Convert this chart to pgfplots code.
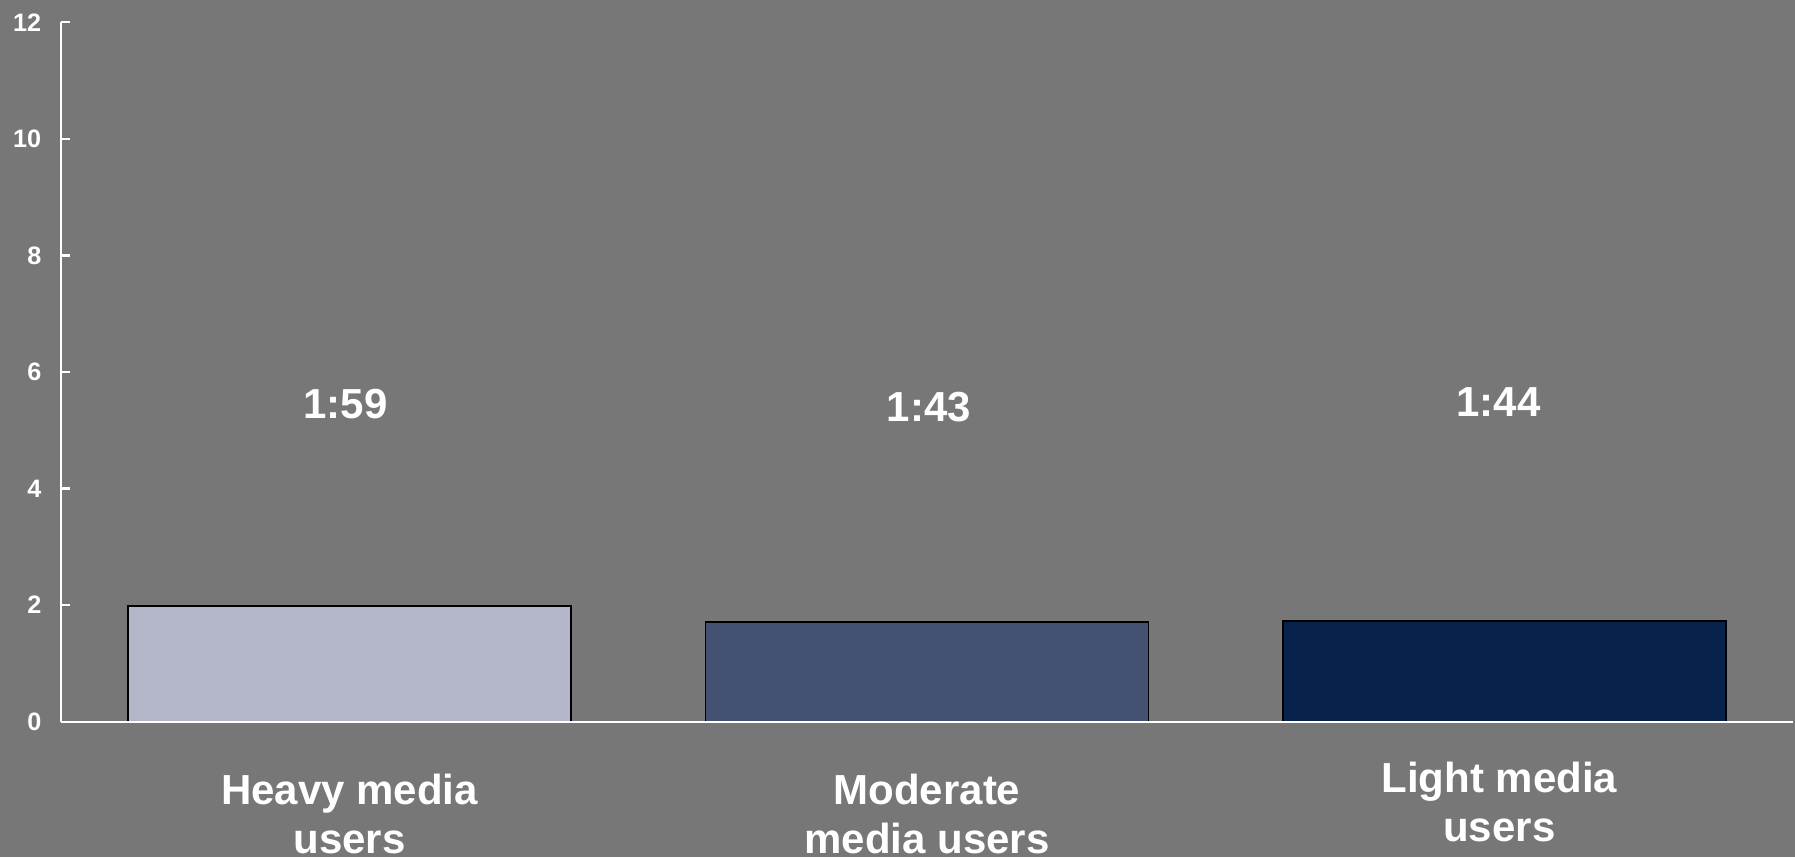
\documentclass[border=0pt]{standalone}
\usepackage{fontspec}
\setmainfont{Liberation Sans}
\usepackage{pgfplots}
\pgfplotsset{compat=1.18}

\definecolor{bggray}{RGB}{119,119,119}
\definecolor{heavycol}{RGB}{179,183,201}
\definecolor{moderatecol}{RGB}{69,81,115}
\definecolor{lightcol}{RGB}{7,34,75}

\begin{document}
\begin{tikzpicture}
% page area and grey backdrop
\fill[bggray] (-15.25pt,-33.825pt) rectangle (433.5pt,180.425pt);
\clip (-15.25pt,-33.825pt) rectangle (433.5pt,180.425pt);
\begin{pgfinterruptboundingbox}
\begin{axis}[
  at={(0pt,0pt)}, anchor=south west,
  scale only axis,
  width=433pt, height=174.85pt,
  xmin=-0.5, xmax=2.5,
  ymin=0, ymax=12,
  axis on top,
  axis x line*=bottom,
  axis y line*=left,
  axis line style={white, line width=0.55pt},
  ybar, bar width=110.75pt, bar shift=0pt,
  ytick={0,2,...,12},
  tick align=inside,
  major tick length=2.25pt,
  y tick style={white, line width=0.55pt},
  x tick style={draw=none},
  /pgf/number format/assume math mode=true,
  yticklabel style={text=white, font=\bfseries\fontsize{6.3}{7.5}\selectfont, xshift=-1.4pt},
  xtick={0,1},
  xticklabels={{Heavy media\\users},{Moderate\\media users}},
  extra x ticks={2},
  extra x tick labels={{Light media\\users}},
  extra x tick style={xticklabel style={yshift=3pt, xshift=-1.25pt}},
  xticklabel style={text=white, align=center, anchor=north, yshift=-9.5pt,
    font=\bfseries\fontsize{10.5}{12.4}\selectfont},
  clip=false,
]
% average time per day, hours (1:59, 1:43, 1:44)
\addplot[draw=black, line width=0.45pt, fill=heavycol] coordinates {(0,1.9833)};
\addplot[draw=black, line width=0.45pt, fill=moderatecol] coordinates {(1,1.7167)};
\addplot[draw=black, line width=0.45pt, fill=lightcol] coordinates {(2,1.7333)};

\node[text=white, anchor=base, font=\bfseries\fontsize{10.5}{12.6}\selectfont] at (axis cs:-0.007,5.206) {1:59};
\node[text=white, anchor=base, font=\bfseries\fontsize{10.5}{12.6}\selectfont] at (axis cs:1.003,5.148) {1:43};
\node[text=white, anchor=base, font=\bfseries\fontsize{10.5}{12.6}\selectfont] at (axis cs:1.99,5.233) {1:44};
\end{axis}
\end{pgfinterruptboundingbox}
\end{tikzpicture}
\end{document}
